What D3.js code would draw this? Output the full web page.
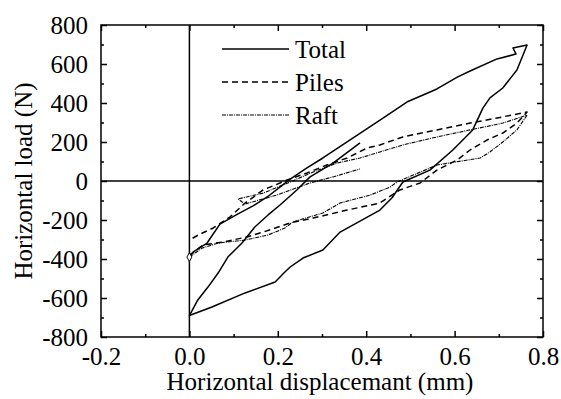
<!DOCTYPE html>
<html>
<head>
<meta charset="utf-8">
<script src="https://cdn.jsdelivr.net/npm/d3@7"></script>
<style>
  html, body { margin: 0; padding: 0; background: #fff; }
  svg { display: block; }
</style>
</head>
<body>
<svg id="chart" width="561" height="399" font-family="Liberation Serif"></svg>
<script>
// ---- data (displacement mm, load N) ----
const seriesNames = ["Total", "Piles", "Raft"];

const totalX = [0.386, 0.325, 0.273, 0.243, 0.205, 0.178, 0.148, 0.119, 0.087, 0.065, 0.042, 0.019, 0.0,
  0.051, 0.126, 0.194, 0.216, 0.228, 0.257, 0.302, 0.341, 0.431, 0.458, 0.483, 0.544, 0.596, 0.641, 0.664, 0.680, 0.709, 0.741, 0.764,
  0.732, 0.739, 0.696, 0.635, 0.606, 0.560, 0.492, 0.438, 0.379, 0.302, 0.266, 0.228, 0.176, 0.144, 0.110, 0.069, 0.040, 0.009, 0.0];
const totalY = [195, 92, 21, -46, -123, -174, -236, -318, -390, -472, -544, -610, -690,
  -646, -574, -518, -467, -441, -395, -354, -262, -149, -87, -5, 56, 159, 262, 374, 426, 477, 569, 697,
  682, 651, 626, 564, 533, 472, 405, 323, 234, 118, 67, 10, -82, -128, -169, -221, -318, -364, -390];

const pilesX = [0.0, 0.031, 0.076, 0.130, 0.167, 0.228, 0.280, 0.357, 0.431, 0.476, 0.522, 0.560, 0.606, 0.635, 0.673, 0.709, 0.741, 0.764,
  0.696, 0.635, 0.560, 0.483, 0.431, 0.402, 0.357, 0.311, 0.266, 0.221, 0.167, 0.126, 0.092, 0.054, 0.020, 0.0];
const pilesY = [-380, -328, -313, -287, -262, -215, -190, -149, -113, -46, -10, 56, 108, 159, 210, 246, 297, 354,
  323, 297, 262, 226, 185, 169, 118, 82, 41, 5, -46, -113, -184, -241, -277, -303];

const raftX = [0.0, 0.029, 0.065, 0.126, 0.178, 0.216, 0.234, 0.302, 0.341, 0.409, 0.454, 0.470, 0.560, 0.658, 0.680, 0.709, 0.741, 0.764,
  0.709, 0.635, 0.560, 0.483, 0.431, 0.386, 0.334, 0.280, 0.228, 0.167, 0.110,
  0.126, 0.198, 0.273, 0.325, 0.386];
const raftY = [-390, -344, -318, -303, -277, -241, -210, -164, -113, -72, -31, -5, 82, 118, 149, 200, 262, 338,
  297, 262, 226, 185, 149, 118, 92, 46, -5, -62, -92,
  -118, -72, -10, 21, 62];

const xTicks = [-0.2, 0.0, 0.2, 0.4, 0.6, 0.8];
const xTickLabels = ["-0.2", "0.0", "0.2", "0.4", "0.6", "0.8"];
const xMinor = [-0.1, 0.1, 0.3, 0.5, 0.7];
const yTicks = [-800, -600, -400, -200, 0, 200, 400, 600, 800];
const yTickLabels = ["-800", "-600", "-400", "-200", "0", "200", "400", "600", "800"];
const yMinor = [-700, -500, -300, -100, 100, 300, 500, 700];

const xLabel = "Horizontal displacemant (mm)";
const yLabel = "Horizontal load (N)";

// ---- drawing ----
const FONT = "Liberation Serif";
const FS = 25;
const svg = d3.select("#chart");
const L = 101, R = 543, T = 25, B = 337;
const x = d3.scaleLinear().domain([-0.2, 0.8]).range([L, R]);
const y = d3.scaleLinear().domain([-800, 800]).range([B, T]);

function txt(sel) {
  return sel.attr("font-family", FONT).style("font-family", `"${FONT}"`)
    .style("font-size", FS + "px").attr("fill", "#000");
}

// zero lines
svg.append("line").attr("x1", L).attr("x2", R).attr("y1", y(0)).attr("y2", y(0))
  .attr("stroke", "#000").attr("stroke-width", 1.5);
svg.append("line").attr("x1", x(0)).attr("x2", x(0)).attr("y1", T).attr("y2", B)
  .attr("stroke", "#000").attr("stroke-width", 1.5);

// series
const line = d3.line().x(d => x(d[0])).y(d => y(d[1]));
const styles = {
  Total: { w: 1.5, dash: null },
  Piles: { w: 1.5, dash: "6,4" },
  Raft:  { w: 1.1, dash: "4,1,1,1" }
};
const seriesData = {
  Total: d3.zip(totalX, totalY),
  Piles: d3.zip(pilesX, pilesY),
  Raft: d3.zip(raftX, raftY)
};
seriesNames.forEach(n => {
  svg.append("path").datum(seriesData[n]).attr("d", line)
    .attr("fill", "none").attr("stroke", "#000")
    .attr("stroke-width", styles[n].w)
    .attr("stroke-linejoin", "round")
    .attr("stroke-dasharray", styles[n].dash);
});
// start marker (open diamond)
svg.append("path")
  .attr("d", d3.symbol(d3.symbolDiamond, 22)())
  .attr("transform", `translate(${x(raftX[0])},${y(raftY[0])})`)
  .attr("fill", "#fff").attr("stroke", "#000").attr("stroke-width", 1);

// axes
function styleAxis(g) {
  g.attr("font-family", FONT).attr("font-size", FS);
  g.select(".domain").remove();
  g.selectAll(".tick line").attr("stroke", "#000").attr("stroke-width", 1.5);
  txt(g.selectAll("text"));
}
svg.append("g").attr("transform", `translate(0,${B})`)
  .call(d3.axisBottom(x).tickValues(xTicks).tickFormat((d, i) => xTickLabels[i]).tickSizeInner(-6).tickSizeOuter(0).tickPadding(10))
  .call(styleAxis);
svg.append("g").attr("transform", `translate(0,${B})`)
  .call(d3.axisBottom(x).tickValues(xMinor).tickFormat("").tickSizeInner(-3).tickSizeOuter(0))
  .call(styleAxis);
svg.append("g").attr("transform", `translate(0,${T})`)
  .call(d3.axisTop(x).tickValues(xTicks).tickFormat("").tickSizeInner(-6).tickSizeOuter(0))
  .call(styleAxis);
svg.append("g").attr("transform", `translate(0,${T})`)
  .call(d3.axisTop(x).tickValues(xMinor).tickFormat("").tickSizeInner(-3).tickSizeOuter(0))
  .call(styleAxis);
svg.append("g").attr("transform", `translate(${L},0)`)
  .call(d3.axisLeft(y).tickValues(yTicks).tickFormat((d, i) => yTickLabels[i]).tickSizeInner(-6).tickSizeOuter(0).tickPadding(13))
  .call(styleAxis);
svg.append("g").attr("transform", `translate(${L},0)`)
  .call(d3.axisLeft(y).tickValues(yMinor).tickFormat("").tickSizeInner(-3).tickSizeOuter(0))
  .call(styleAxis);
svg.append("g").attr("transform", `translate(${R},0)`)
  .call(d3.axisRight(y).tickValues(yTicks).tickFormat("").tickSizeInner(-6).tickSizeOuter(0))
  .call(styleAxis);
svg.append("g").attr("transform", `translate(${R},0)`)
  .call(d3.axisRight(y).tickValues(yMinor).tickFormat("").tickSizeInner(-3).tickSizeOuter(0))
  .call(styleAxis);

// frame
svg.append("rect").attr("x", L).attr("y", T).attr("width", R - L).attr("height", B - T)
  .attr("fill", "none").attr("stroke", "#000").attr("stroke-width", 1.5);

// axis labels
txt(svg.append("text").attr("x", 320).attr("y", 390).attr("text-anchor", "middle")).text(xLabel);
txt(svg.append("text").attr("transform", `translate(32,${(T + B) / 2}) rotate(-90)`)
  .attr("text-anchor", "middle")).text(yLabel);

// legend
const legY = [49, 82, 115];
seriesNames.forEach((n, i) => {
  svg.append("line").attr("x1", 222).attr("x2", 289).attr("y1", legY[i]).attr("y2", legY[i])
    .attr("stroke", "#000").attr("stroke-width", styles[n].w)
    .attr("stroke-dasharray", styles[n].dash);
  txt(svg.append("text").attr("x", 295).attr("y", legY[i]).attr("dy", "0.35em")).text(n);
});
</script>
</body>
</html>
